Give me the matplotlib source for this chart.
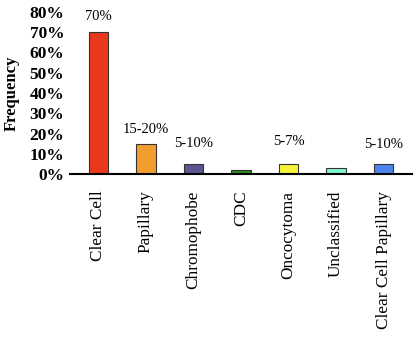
import matplotlib
matplotlib.use('Agg')
import matplotlib.pyplot as plt
import numpy as np

# RCC subtypes and their frequency (%)
subtypes = ['Clear Cell', 'Papillary', 'Chromophobe', 'CDC', 'Oncocytoma',
            'Unclassified', 'Clear Cell Papillary']
freq = [70, 15, 5, 2, 5, 3, 5]
labels = ['70%', '15-20%', '5-10%', '', '5-7%', '', '5-10%']
colors = ['#E8391D', '#F29E2E', '#5A5690', '#2C8A22', '#F7F23A', '#7FF5CC', '#4A84EC']
yticks = [0, 10, 20, 30, 40, 50, 60, 70, 80]

label_pad = [11, 10, 15, 0, 16, 0, 14]   # text offset above bar top (pt)

plt.rcParams['font.family'] = ['Liberation Serif', 'DejaVu Serif']

fig = plt.figure(figsize=(4.18, 3.4), dpi=100)
ax = fig.add_axes([0.167, 0.488, 0.819, 0.477])

x = np.arange(len(subtypes))
ax.bar(x, freq, width=0.41, color=colors, edgecolor='#333333', linewidth=0.8, zorder=2)

for i in range(len(subtypes)):
    if labels[i]:
        ax.annotate(labels[i], (x[i], freq[i]), xytext=(0, label_pad[i]),
                    textcoords='offset points', ha='center', va='center', fontsize=10.5)

ax.set_xlim(-0.6, len(subtypes) - 0.4)
ax.set_ylim(0, 80)
ax.set_yticks(yticks)
ax.set_yticklabels([str(t) + '%' for t in yticks], fontweight='bold', fontsize=12.5)
ax.set_xticks(x)
ax.set_xticklabels(subtypes, rotation=90, fontsize=12.4)
ax.tick_params(length=0, pad=4)
ax.tick_params(axis='x', pad=12)
ax.set_ylabel('Frequency', fontweight='bold', fontsize=12, labelpad=7)

for s in ['top', 'right', 'left']:
    ax.spines[s].set_visible(False)
ax.spines['bottom'].set_linewidth(1.5)

plt.savefig('out.png', dpi=100)
